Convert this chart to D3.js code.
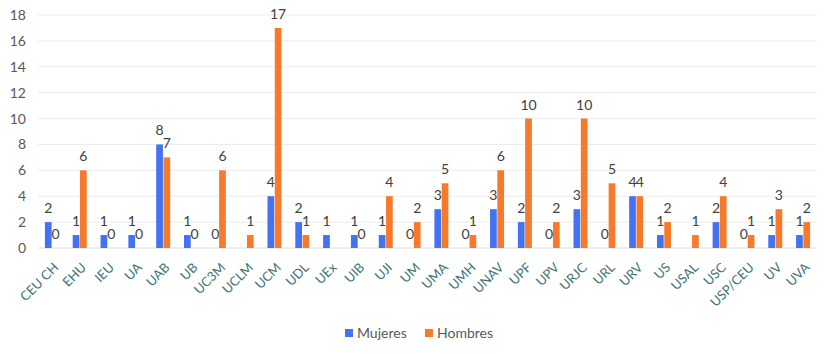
<!DOCTYPE html>
<html lang="es">
  <head>
    <meta charset="utf-8">
    <title>Mujeres y Hombres por universidad</title>
    <script src="https://d3js.org/d3.v7.min.js"></script>
    <style>
      body { margin: 0; background: #fff; }
      text { font-family: Lato, "Open Sans", sans-serif; }
    </style>
  </head>
  <body>
    <script>
    const w = 835;
    const h = 354;

    // datos
    const universidades = ["CEU CH", "EHU", "IEU", "UA", "UAB", "UB", "UC3M", "UCLM", "UCM", "UDL",
                           "UEx", "UIB", "UJI", "UM", "UMA", "UMH", "UNAV", "UPF", "UPV", "URJC",
                           "URL", "URV", "US", "USAL", "USC", "USP/CEU", "UV", "UVA"];
    // null = sin barra ni etiqueta
    const mujeres = [2, 1, 1, 1, 8, 1, 0, null, 4, 2,
                     1, 1, 1, 0, 3, 0, 3, 2, 0, 3,
                     0, 4, 1, null, 2, 0, 1, 1];
    const hombres = [0, 6, 0, 0, 7, 0, 6, 1, 17, 1,
                     null, 0, 4, 2, 5, 1, 6, 10, 2, 10,
                     5, 4, 2, 1, 4, 1, 3, 2];
    const yTicks = [0, 2, 4, 6, 8, 10, 12, 14, 16, 18];
    const series = [
      { name: "Mujeres", values: mujeres, color: "#4372f2" },
      { name: "Hombres", values: hombres, color: "#f77a2c" }
    ];

    const margin = { left: 38, right: 18, top: 15, bottom: 106 };

    const svg = d3.select("body").append("svg")
      .attr("width", w)
      .attr("height", h);

    const x = d3.scaleBand()
      .domain(universidades)
      .range([margin.left, w - margin.right]);

    const sub = d3.scaleBand()
      .domain(series.map(s => s.name))
      .range([x.bandwidth() / 2 - 7, x.bandwidth() / 2 + 7])
      .paddingInner(0.08);

    const y = d3.scaleLinear()
      .domain([0, 18])
      .range([h - margin.bottom, margin.top]);

    // rejilla
    svg.append("g")
      .selectAll("line")
      .data(yTicks)
      .join("line")
      .attr("x1", margin.left)
      .attr("x2", w - margin.right)
      .attr("y1", d => y(d))
      .attr("y2", d => y(d))
      .attr("stroke", d => d === 0 ? "#dcdcdc" : "#ebebeb")
      .attr("stroke-width", 1);

    // eje y
    const yAxis = svg.append("g")
      .attr("transform", `translate(${margin.left - 12},0)`)
      .call(d3.axisLeft(y).tickValues(yTicks).tickSize(0).tickPadding(0));
    yAxis.select(".domain").remove();
    yAxis.selectAll("text")
      .attr("fill", "#595959")
      .style("font-size", "14px");

    // eje x
    const xAxis = svg.append("g")
      .attr("transform", `translate(0,${y(0)})`)
      .call(d3.axisBottom(x).tickSize(0));
    xAxis.select(".domain").remove();
    xAxis.selectAll("text")
      .attr("fill", "#3d7375")
      .style("font-size", "13px")
      .attr("text-anchor", "end")
      .attr("dy", "0.35em")
      .attr("transform", "translate(2,15) rotate(-45)");

    // barras y etiquetas
    series.forEach(s => {
      const g = svg.append("g");
      const pts = universidades.map((u, i) => ({ u: u, v: s.values[i] }))
        .filter(d => d.v !== null);

      g.selectAll("rect")
        .data(pts.filter(d => d.v > 0))
        .join("rect")
        .attr("x", d => x(d.u) + sub(s.name))
        .attr("width", sub.bandwidth())
        .attr("y", d => y(d.v))
        .attr("height", d => y(0) - y(d.v))
        .attr("fill", s.color);

      g.selectAll("text")
        .data(pts)
        .join("text")
        .attr("x", d => x(d.u) + sub(s.name) + sub.bandwidth() / 2)
        .attr("y", d => y(d.v) - 9)
        .attr("text-anchor", "middle")
        .attr("fill", "#404040")
        .style("font-size", "14px")
        .text(d => d.v);
    });

    // leyenda
    const legend = svg.append("g")
      .attr("transform", "translate(345,329)");
    const item = legend.selectAll("g")
      .data(series)
      .join("g")
      .attr("transform", (d, i) => `translate(${i * 80},0)`);
    item.append("rect")
      .attr("width", 8)
      .attr("height", 8)
      .attr("fill", d => d.color);
    item.append("text")
      .attr("x", 12)
      .attr("y", 8.5)
      .attr("fill", "#595959")
      .style("font-size", "14px")
      .text(d => d.name);
    </script>
  </body>
</html>
